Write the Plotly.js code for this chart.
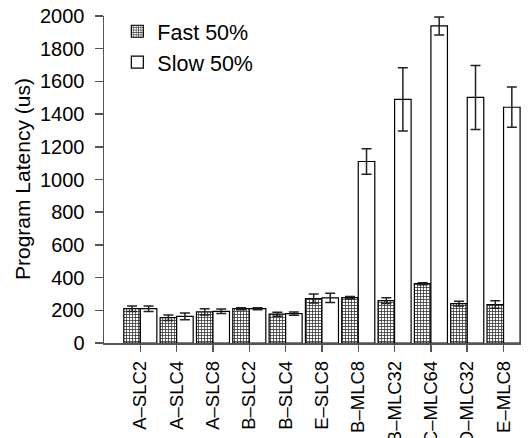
<!DOCTYPE html>
<html><head><meta charset="utf-8">
<script src="https://cdn.plot.ly/plotly-3.0.1.min.js"></script>
<style>body{margin:0;background:#fff}#chart{width:530px;height:438px}</style>
</head><body><div id="chart"></div>
<script>
const categories = ["A–SLC2","A–SLC4","A–SLC8","B–SLC2","B–SLC4","E–SLC8","B–MLC8","B–MLC32","C–MLC64","D–MLC32","E–MLC8"];
const fastValues = [210,155,190,210,176,272,278,259,363,241,235];
const fastErrors = [17,17,19,6,12,27,7,17,6,15,23];
const slowValues = [210,163,194,210,180,276,1110,1490,1939,1502,1442];
const slowErrors = [17,21,14,6,10,28,78,193,55,196,123];
const yTicks = [0,200,400,600,800,1000,1200,1400,1600,1800,2000];

const errStyle = {type:'data', visible:true, color:'#222', thickness:1.5, width:5};
const data = [
  {type:'bar', name:'Fast 50%', x:categories, y:fastValues,
   error_y:Object.assign({array:fastErrors}, errStyle),
   marker:{color:'#ffffff', line:{color:'#000', width:1.2},
     pattern:{shape:'+', size:3, solidity:0.45, fgcolor:'#333', bgcolor:'#fff'}}},
  {type:'bar', name:'Slow 50%', x:categories, y:slowValues,
   error_y:Object.assign({array:slowErrors}, errStyle),
   marker:{color:'#ffffff', line:{color:'#000', width:1.2}}}
];
const layout = {
  width:530, height:438,
  margin:{l:104, r:9, t:16, b:95},
  paper_bgcolor:'#fff', plot_bgcolor:'#fff',
  font:{family:'Liberation Sans, Arial, sans-serif', color:'#000', size:20},
  barmode:'group', bargap:0.09, bargroupgap:0,
  showlegend:true,
  legend:{x:0.032, y:1.016, xanchor:'left', yanchor:'top', bgcolor:'rgba(0,0,0,0)',
    font:{size:21.5}, itemclick:false},
  xaxis:{type:'category', range:[-1,10.48], showline:true, linecolor:'#555', linewidth:1.5,
    ticks:'outside', ticklen:7, tickcolor:'#555', tickwidth:1.5, tickangle:-90,
    ticklabelstandoff:2, tickfont:{size:18.5}, showgrid:false, zeroline:false, fixedrange:true},
  yaxis:{range:[0,2000], tickvals:yTicks, showline:true, linecolor:'#555', linewidth:1.5,
    ticks:'outside', ticklen:8, tickcolor:'#555', tickwidth:1.5, ticklabelstandoff:6,
    tickfont:{size:20}, showgrid:false, zeroline:false, fixedrange:true},
  annotations:[{text:'Program Latency (us)', xref:'paper', yref:'paper',
    x:(22-104)/417, y:(343-179)/327, textangle:-90, showarrow:false,
    font:{size:21}, xanchor:'center', yanchor:'middle'}]
};
Plotly.newPlot('chart', data, layout, {staticPlot:true});
</script></body></html>
